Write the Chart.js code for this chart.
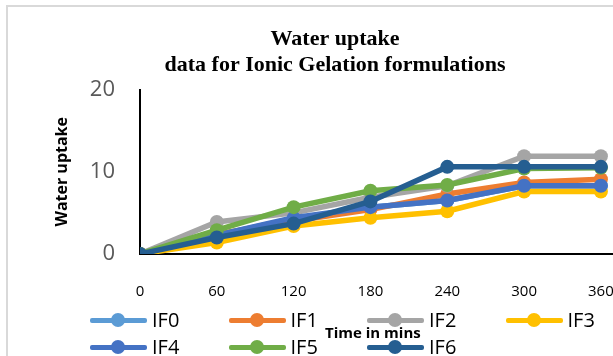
<!DOCTYPE html>
<html>
<head>
<meta charset="utf-8">
<script src="https://cdn.jsdelivr.net/npm/chart.js@4"></script>
<style>
  body { margin: 0; background: #fff; }
  #wrap { position: relative; width: 613px; height: 356px; overflow: hidden; background: #fff; }
  #frame { position: absolute; left: 6px; top: 5px; width: 720px; height: 420px; border: 2px solid #d9d9d9; box-sizing: border-box; }
  #chart { position: absolute; left: 0; top: 0; }
  .item { position: absolute; height: 20px; }
  .item .line { position: absolute; left: 0; top: 8px; width: 57px; height: 5px; border-radius: 2px; }
  .item .dot { position: absolute; left: 21px; top: 3px; width: 14px; height: 14px; border-radius: 50%; }
  .item .txt { position: absolute; left: 62px; top: -4px; font: 20px "Open Sans", sans-serif; color: #000; white-space: nowrap; }
  #xtitle { position: absolute; left: 325px; top: 322px; font: bold 15px "Open Sans", sans-serif; color: #000; white-space: nowrap; }
</style>
</head>
<body>
<div id="wrap">
  <div id="frame"></div>
  <canvas id="chart" width="670" height="356"></canvas>
  <div id="legend"></div>
  <div id="xtitle">Time in mins</div>
</div>
<script>
// time points (minutes)
const times = [0, 60, 120, 180, 240, 300, 360];

// water uptake per formulation
const IF0 = [0, 2.3, 4.3, 5.7, 6.5, 8.3, 8.3];
const IF1 = [0, 2.4, 4.0, 5.4, 7.3, 8.7, 9.1];
const IF2 = [0, 3.9, 5.0, 6.9, 8.3, 11.9, 11.9];
const IF3 = [0, 1.4, 3.4, 4.4, 5.2, 7.6, 7.6];
const IF4 = [0, 2.3, 4.4, 5.7, 6.5, 8.3, 8.3];
const IF5 = [0, 2.9, 5.7, 7.7, 8.4, 10.4, 10.5];
const IF6 = [0, 2.0, 3.7, 6.4, 10.6, 10.6, 10.6];

const seriesNames = ['IF0', 'IF1', 'IF2', 'IF3', 'IF4', 'IF5', 'IF6'];
const seriesValues = [IF0, IF1, IF2, IF3, IF4, IF5, IF6];
const colors = ['#5B9BD5', '#ED7D31', '#A5A5A5', '#FFC000', '#4472C4', '#70AD47', '#255E91'];

const datasets = seriesNames.map((name, i) => ({
    label: name,
    data: seriesValues[i].map((v, j) => ({ x: times[j], y: v })),
    borderColor: colors[i],
    backgroundColor: colors[i],
    borderWidth: 5.5,
    pointRadius: 7,
    pointBorderWidth: 0,
    pointBackgroundColor: colors[i],
    tension: 0,
    order: seriesNames.length - i
}));

new Chart(document.getElementById('chart'), {
    type: 'line',
    data: { datasets: datasets },
    options: {
        responsive: false,
        animation: false,
        layout: { padding: 0 },
        plugins: {
            legend: { display: false },
            tooltip: { enabled: false },
            title: {
                display: true,
                text: ['Water uptake', 'data for Ionic Gelation formulations'],
                color: '#000',
                font: { family: '"Liberation Serif", serif', size: 22, weight: 'bold', lineHeight: 1.15 },
                padding: { top: 27, bottom: 12 }
            }
        },
        scales: {
            x: {
                type: 'linear',
                min: 0,
                max: 408.5,
                grid: { display: false, drawTicks: false },
                border: { display: true, color: '#000', width: 2 },
                ticks: {
                    color: '#000',
                    padding: 29,
                    maxRotation: 0,
                    autoSkip: false,
                    font: { family: '"Open Sans", sans-serif', size: 15, lineHeight: 1.2 }
                },
                afterBuildTicks: (scale) => {
                    scale.ticks = times.map(t => ({ value: t }));
                },
                afterFit: (scale) => { scale.height = 102; }
            },
            y: {
                min: 0,
                max: 20,
                grid: { display: false, drawTicks: false },
                border: { display: true, color: '#000', width: 2 },
                ticks: {
                    stepSize: 10,
                    color: '#595959',
                    padding: 25,
                    font: { family: '"Open Sans", sans-serif', size: 22, lineHeight: 1.2 }
                },
                title: {
                    display: true,
                    text: 'Water uptake',
                    color: '#000',
                    font: { family: '"Open Sans", sans-serif', size: 16, weight: 'bold', lineHeight: 1.2 },
                    padding: { top: 53, bottom: 0 }
                },
                afterFit: (scale) => { scale.width = 140; }
            }
        }
    }
});

// legend laid out as a 4-column grid, like the original
const legend = document.getElementById('legend');
seriesNames.forEach((name, i) => {
    const col = i % 4;
    const row = Math.floor(i / 4);
    const item = document.createElement('div');
    item.className = 'item';
    item.style.left = (90 + col * 138.5) + 'px';
    item.style.top = (310 + row * 27) + 'px';
    item.innerHTML = `
        <div class="line" style="background:${colors[i]}"></div>
        <div class="dot" style="background:${colors[i]}"></div>
        <span class="txt">${name}</span>
    `;
    legend.appendChild(item);
});
</script>
</body>
</html>
